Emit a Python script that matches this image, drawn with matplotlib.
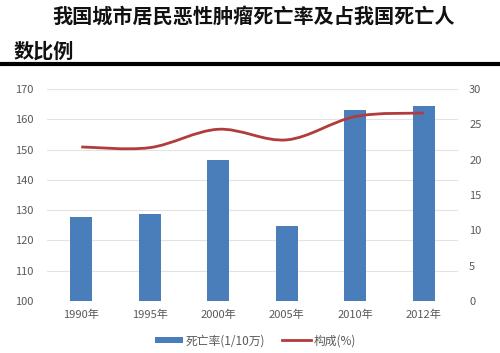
import matplotlib
matplotlib.use("Agg")
import matplotlib.pyplot as plt
import numpy as np
from matplotlib.path import Path
from matplotlib.patches import PathPatch

plt.rcParams['font.family'] = ['Noto Sans CJK SC', 'DejaVu Sans']

years = ['1990年', '1995年', '2000年', '2005年', '2010年', '2012年']
death_rate = [127.8, 128.6, 146.4, 124.8, 163.0, 164.5]
share = [21.8, 21.7, 24.3, 22.8, 26.1, 26.6]

bar_color = '#4a7ebb'
line_color = '#b23b3b'

fig = plt.figure(figsize=(5.0, 3.53), dpi=100)
ax = fig.add_axes([0.094, 0.147, 0.822, 0.601])
ax2 = ax.twinx()

x = np.arange(len(years))
ax.bar(x, death_rate, width=0.32, color=bar_color, zorder=3, label='死亡率(1/10万)')
ax.set_ylim(100, 170)
ax.set_yticks(range(100, 171, 10))
ax.set_xlim(-0.5, len(years) - 0.5)
ax.set_xticks(x)
ax.set_xticklabels(years)
ax.grid(axis='y', color='#e3e3e3', linewidth=0.8, zorder=0)
ax.set_axisbelow(True)

ax2.set_ylim(0, 30)
ax2.set_yticks(range(0, 31, 5))

# smooth curve through the data points (Catmull-Rom as cubic Bezier)
pts = np.column_stack([x, share]).astype(float)
verts = [tuple(pts[0])]
codes = [Path.MOVETO]
n = len(pts)
for i in range(n - 1):
    p0 = pts[i - 1] if i > 0 else pts[i]
    p1 = pts[i]
    p2 = pts[i + 1]
    p3 = pts[i + 2] if i + 2 < n else pts[i + 1]
    c1 = p1 + (p2 - p0) / 6.0
    c2 = p2 - (p3 - p1) / 6.0
    verts += [tuple(c1), tuple(c2), tuple(p2)]
    codes += [Path.CURVE4] * 3
patch = PathPatch(Path(verts, codes), facecolor='none', edgecolor=line_color, linewidth=2.0, zorder=4)
ax2.add_patch(patch)
ax2.plot([], [], color=line_color, linewidth=2.0, label='构成(%)')

for a in (ax, ax2):
    for s in a.spines.values():
        s.set_visible(False)
    a.tick_params(length=0, labelsize=8, colors='#595959')
ax.tick_params(axis='y', pad=10)
ax2.tick_params(axis='y', pad=8)
ax.tick_params(axis='x', pad=6)

h1, l1 = ax.get_legend_handles_labels()
h2, l2 = ax2.get_legend_handles_labels()
fig.legend(h1 + h2, l1 + l2, loc='center', bbox_to_anchor=(0.51, 0.035), ncol=2,
           frameon=False, fontsize=8.5, labelcolor='#595959', handlelength=2.4,
           handleheight=0.5, handletextpad=0.2, columnspacing=1.5)

fig.text(0.104, 0.955, '我国城市居民恶性肿瘤死亡率及占我国死亡人', fontsize=14.5, fontweight='bold',
         va='center', ha='left', color='#111111')
fig.text(0.028, 0.855, '数比例', fontsize=14.5, fontweight='bold', va='center', ha='left', color='#111111')
fig.add_artist(plt.Line2D([0.004, 1.0], [0.818, 0.818], color='black', linewidth=3))

fig.savefig('out.png', dpi=100)
